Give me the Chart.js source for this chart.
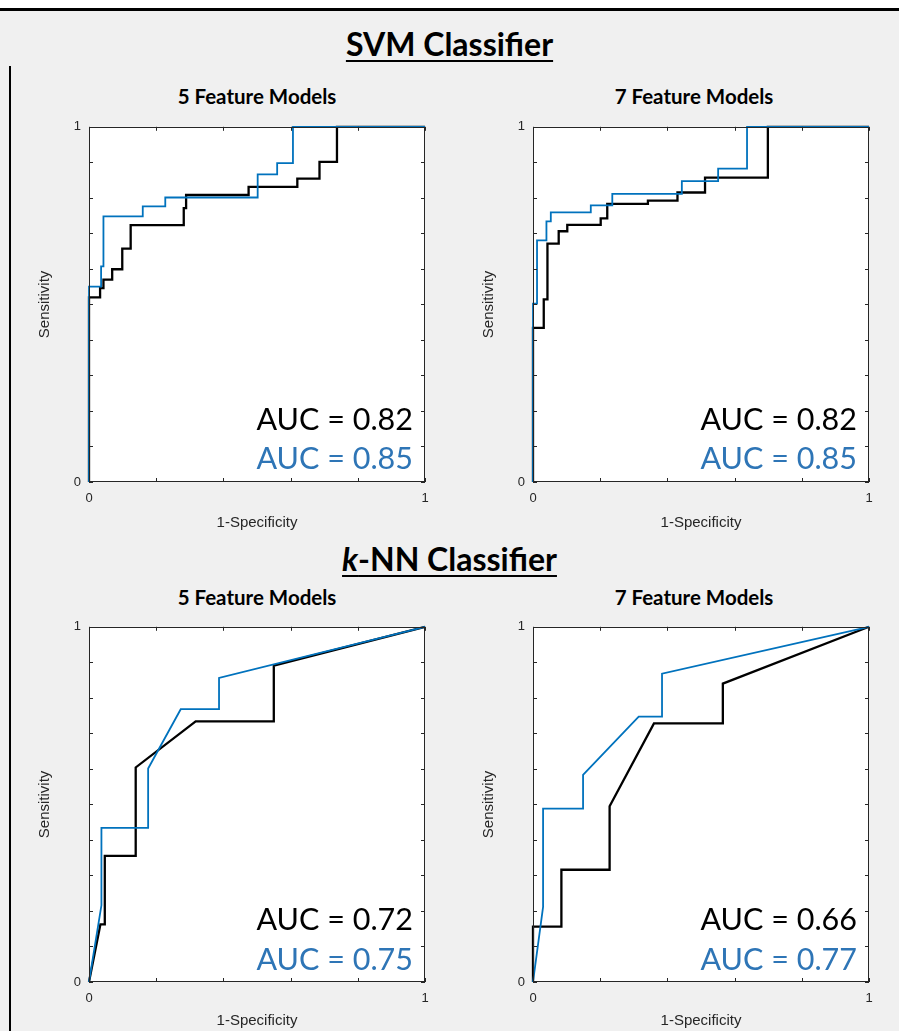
<!DOCTYPE html>
<html>
<head>
<meta charset="utf-8">
<script src="https://cdn.jsdelivr.net/npm/chart.js@4.4.1/dist/chart.umd.min.js"></script>
<style>
html, body { margin: 0; padding: 0; }
body { width: 899px; height: 1031px; background: #f0f0f0; position: relative; overflow: hidden; font-family: Lato, "Open Sans", sans-serif; }
.topwhite { position: absolute; left: 0; top: 0; width: 899px; height: 8px; background: #fff; }
.topbar { position: absolute; left: 0; top: 8px; width: 899px; height: 3px; background: #000; }
.sidebar { position: absolute; left: 9px; top: 66px; width: 2px; height: 965px; background: #000; }
.heading { position: absolute; left: 0; width: 899px; text-align: center; font-weight: bold; font-size: 32px; line-height: 38px; text-decoration: underline; text-decoration-thickness: 2px; text-underline-offset: 4px; color: #000; }
.sub { position: absolute; width: 336px; text-align: center; font-weight: bold; font-size: 20.5px; line-height: 24px; color: #000; }
.panel { position: absolute; }
.auc { position: absolute; width: 324px; text-align: right; font-size: 30.5px; line-height: 36px; white-space: nowrap; }
.black { color: #000; }
.blue { color: #2e75b6; }
</style>
</head>
<body>
<div class="topwhite"></div>
<div class="topbar"></div>
<div class="sidebar"></div>

<div class="heading" style="top:25px">SVM Classifier</div>
<div class="heading" style="top:540px"><i>k</i>-NN Classifier</div>

<div class="sub" style="left:89px;top:84px">5 Feature Models</div>
<div class="sub" style="left:526px;top:84px">7 Feature Models</div>
<div class="sub" style="left:89px;top:585px">5 Feature Models</div>
<div class="sub" style="left:526px;top:585px">7 Feature Models</div>

<canvas id="svm5" class="panel" width="410" height="422" style="left:29px;top:111px"></canvas>
<canvas id="svm7" class="panel" width="410" height="422" style="left:473px;top:111px"></canvas>
<canvas id="knn5" class="panel" width="410" height="420" style="left:29px;top:611px"></canvas>
<canvas id="knn7" class="panel" width="410" height="420" style="left:473px;top:611px"></canvas>

<div class="auc black" style="left:89px;top:400px">AUC = 0.82</div>
<div class="auc blue" style="left:89px;top:439px">AUC = 0.85</div>
<div class="auc black" style="left:533px;top:400px">AUC = 0.82</div>
<div class="auc blue" style="left:533px;top:439px">AUC = 0.85</div>
<div class="auc black" style="left:89px;top:900px">AUC = 0.72</div>
<div class="auc blue" style="left:89px;top:940px">AUC = 0.75</div>
<div class="auc black" style="left:533px;top:900px">AUC = 0.66</div>
<div class="auc blue" style="left:533px;top:940px">AUC = 0.77</div>

<script>
// ROC curves (false positive rate / true positive rate)
const svm5BlackFpr = [0, 0, 0.033, 0.033, 0.043, 0.043, 0.069, 0.069, 0.099, 0.099, 0.124, 0.124, 0.282, 0.282, 0.289, 0.289, 0.475, 0.475, 0.62, 0.62, 0.686, 0.686, 0.738, 0.738, 1];
const svm5BlackTpr = [0, 0.52, 0.52, 0.546, 0.546, 0.57, 0.57, 0.599, 0.599, 0.657, 0.657, 0.723, 0.723, 0.771, 0.771, 0.808, 0.808, 0.831, 0.831, 0.854, 0.854, 0.901, 0.901, 1, 1];
const svm5BlueFpr = [0, 0, 0.036, 0.036, 0.043, 0.043, 0.16, 0.16, 0.227, 0.227, 0.502, 0.502, 0.56, 0.56, 0.607, 0.607, 1];
const svm5BlueTpr = [0, 0.55, 0.55, 0.607, 0.607, 0.748, 0.748, 0.776, 0.776, 0.801, 0.801, 0.866, 0.866, 0.898, 0.898, 1, 1];

const svm7BlackFpr = [0, 0, 0.032, 0.032, 0.043, 0.043, 0.0765, 0.0765, 0.102, 0.102, 0.2015, 0.2015, 0.221, 0.221, 0.342, 0.342, 0.43, 0.43, 0.512, 0.512, 0.699, 0.699, 1];
const svm7BlackTpr = [0, 0.434, 0.434, 0.514, 0.514, 0.671, 0.671, 0.706, 0.706, 0.724, 0.724, 0.742, 0.742, 0.783, 0.783, 0.792, 0.792, 0.815, 0.815, 0.857, 0.857, 1, 1];
const svm7BlueFpr = [0, 0, 0.012, 0.012, 0.04, 0.04, 0.053, 0.053, 0.172, 0.172, 0.236, 0.236, 0.443, 0.443, 0.551, 0.551, 0.637, 0.637, 1];
const svm7BlueTpr = [0, 0.502, 0.502, 0.68, 0.68, 0.734, 0.734, 0.759, 0.759, 0.779, 0.779, 0.811, 0.811, 0.847, 0.847, 0.882, 0.882, 1, 1];

const knn5BlackFpr = [0, 0.034, 0.047, 0.047, 0.139, 0.139, 0.3175, 0.55, 0.55, 1];
const knn5BlackTpr = [0, 0.1625, 0.1625, 0.355, 0.355, 0.604, 0.734, 0.734, 0.891, 1];
const knn5BlueFpr = [0, 0.037, 0.037, 0.176, 0.176, 0.273, 0.387, 0.387, 1];
const knn5BlueTpr = [0, 0.216, 0.434, 0.434, 0.601, 0.768, 0.768, 0.856, 1];

const knn7BlackFpr = [0, 0, 0.0845, 0.0845, 0.228, 0.228, 0.36, 0.565, 0.565, 1];
const knn7BlackTpr = [0, 0.156, 0.156, 0.316, 0.316, 0.495, 0.728, 0.728, 0.84, 1];
const knn7BlueFpr = [0, 0.03, 0.03, 0.149, 0.149, 0.3146, 0.384, 0.384, 1];
const knn7BlueTpr = [0, 0.2115, 0.488, 0.488, 0.583, 0.747, 0.747, 0.868, 1];

const axisColor = '#262626';
const tickFont = { family: 'Liberation Sans, Arial, sans-serif', size: 13 };
const labelFont = { family: 'Liberation Sans, Arial, sans-serif', size: 15 };

// white axes box with MATLAB style inward ticks on all four sides
const matlabAxes = {
  id: 'matlabAxes',
  beforeDatasetsDraw(chart) {
    const { ctx, chartArea: a } = chart;
    ctx.save();
    ctx.fillStyle = '#fff';
    ctx.fillRect(a.left, a.top, a.width, a.height);
    ctx.restore();
  },
  afterDraw(chart) {
    const { ctx, chartArea: a, scales: { x, y } } = chart;
    ctx.save();
    ctx.strokeStyle = axisColor;
    ctx.lineWidth = 1;
    ctx.beginPath();
    x.ticks.forEach(t => {
      const px = Math.round(x.getPixelForValue(t.value)) + 0.5;
      ctx.moveTo(px, a.bottom); ctx.lineTo(px, a.bottom - 4);
      ctx.moveTo(px, a.top); ctx.lineTo(px, a.top + 4);
    });
    y.ticks.forEach(t => {
      const py = Math.round(y.getPixelForValue(t.value)) + 0.5;
      ctx.moveTo(a.left, py); ctx.lineTo(a.left + 4, py);
      ctx.moveTo(a.right, py); ctx.lineTo(a.right - 4, py);
    });
    ctx.stroke();
    ctx.strokeRect(Math.round(a.left) + 0.5, Math.round(a.top) + 0.5, Math.round(a.width) - 1, Math.round(a.height) - 1);
    ctx.restore();
  }
};

function pts(fpr, tpr) {
  return fpr.map((v, i) => ({ x: v, y: tpr[i] }));
}

function endLabel(v) {
  return (v === 0 || v === 1) ? String(v) : '';
}

function makePanel(id, blackFpr, blackTpr, blueFpr, blueTpr, xAxisHeight) {
  new Chart(document.getElementById(id), {
    type: 'line',
    data: {
      datasets: [
        { data: pts(blueFpr, blueTpr), borderColor: '#0072bd', borderWidth: 1.8, pointRadius: 0, tension: 0, clip: false },
        { data: pts(blackFpr, blackTpr), borderColor: '#000', borderWidth: 2.3, pointRadius: 0, tension: 0, clip: false }
      ]
    },
    options: {
      responsive: false,
      devicePixelRatio: 1,
      animation: false,
      layout: { autoPadding: false, padding: { top: 12, right: 14, left: 0, bottom: 0 } },
      plugins: { legend: { display: false }, tooltip: { enabled: false } },
      scales: {
        x: {
          type: 'linear', min: 0, max: 1,
          grid: { display: false, drawTicks: false },
          border: { display: false },
          ticks: { stepSize: 0.2, padding: 9, maxRotation: 0, autoSkip: false, color: axisColor, font: tickFont, callback: endLabel },
          title: { display: true, text: '1-Specificity', color: axisColor, font: labelFont, padding: { top: 0, bottom: 1 } },
          afterFit(s) { s.height = xAxisHeight; }
        },
        y: {
          type: 'linear', min: 0, max: 1,
          grid: { display: false, drawTicks: false },
          border: { display: false },
          ticks: { stepSize: 0.1, padding: 8, autoSkip: false, color: axisColor, font: tickFont, callback: endLabel },
          title: { display: true, text: 'Sensitivity', color: axisColor, font: labelFont, padding: { top: 7, bottom: 0 } },
          afterFit(s) { s.width = 60; }
        }
      }
    },
    plugins: [matlabAxes]
  });
}

makePanel('svm5', svm5BlackFpr, svm5BlackTpr, svm5BlueFpr, svm5BlueTpr, 51);
makePanel('svm7', svm7BlackFpr, svm7BlackTpr, svm7BlueFpr, svm7BlueTpr, 51);
makePanel('knn5', knn5BlackFpr, knn5BlackTpr, knn5BlueFpr, knn5BlueTpr, 49);
makePanel('knn7', knn7BlackFpr, knn7BlackTpr, knn7BlueFpr, knn7BlueTpr, 49);
</script>
</body>
</html>
